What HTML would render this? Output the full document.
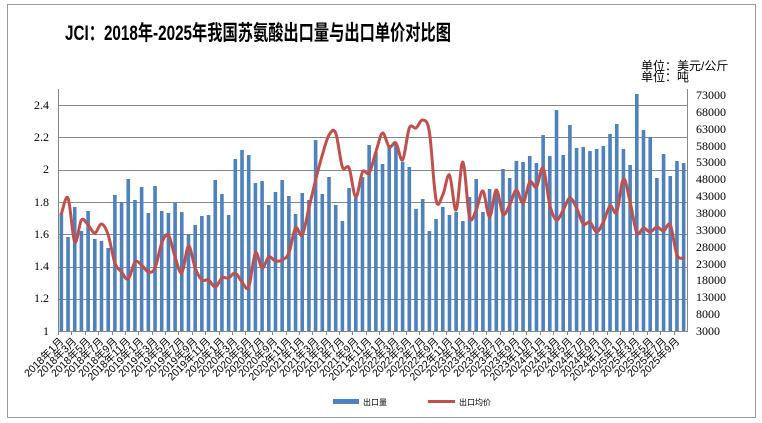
<!DOCTYPE html>
<html><head><meta charset="utf-8">
<style>
html,body{margin:0;padding:0;background:#fff;}
svg{display:block;}
.ax{font-family:"Liberation Serif","Noto Serif CJK SC",serif;font-size:12px;fill:#000;}
.xl{font-family:"Liberation Sans","Noto Sans CJK SC",sans-serif;font-size:10.5px;fill:#000;}
</style></head>
<body>
<svg id="s" width="762" height="423" viewBox="0 0 762 423" xmlns="http://www.w3.org/2000/svg">
<rect x="7.5" y="4.5" width="748" height="413" fill="#fff" stroke="#999" stroke-width="1"/>
<text x="258" y="40" text-anchor="middle" font-family="Liberation Sans,'Noto Sans CJK SC',sans-serif" font-weight="bold" font-size="21" textLength="386" lengthAdjust="spacingAndGlyphs">JCI：2018年-2025年我国苏氨酸出口量与出口单价对比图</text>
<text x="641" y="70" font-family="Liberation Sans,'Noto Sans CJK SC',sans-serif" font-size="12">单位：美元/公斤</text>
<text x="641" y="81" font-family="Liberation Sans,'Noto Sans CJK SC',sans-serif" font-size="12">单位：吨</text>
<g id="grid" stroke="#888" stroke-width="1"></g>
<g id="bars" fill="#4F81BD"></g>
<path id="ln" fill="none" stroke="#C0504D" stroke-width="3" stroke-linejoin="round" stroke-linecap="round"/>
<line x1="58.5" y1="89" x2="58.5" y2="331" stroke="#888"/>
<line x1="687.5" y1="89" x2="687.5" y2="331" stroke="#888"/>
<line x1="58" y1="331.5" x2="688" y2="331.5" stroke="#888"/>
<g id="ticks" stroke="#888"></g>
<g class="ax" text-anchor="end">
<text x="49" y="109">2.4</text><text x="49" y="141">2.2</text><text x="49" y="173">2</text>
<text x="49" y="206">1.8</text><text x="49" y="238">1.6</text><text x="49" y="270">1.4</text>
<text x="49" y="302">1.2</text><text x="49" y="335">1</text>
</g>
<g class="ax" text-anchor="start" font-size="11">
<text x="696" y="99">73000</text><text x="696" y="116">68000</text><text x="696" y="133">63000</text>
<text x="696" y="150">58000</text><text x="696" y="166">53000</text><text x="696" y="183">48000</text>
<text x="696" y="200">43000</text><text x="696" y="217">38000</text><text x="696" y="234">33000</text>
<text x="696" y="251">28000</text><text x="696" y="268">23000</text><text x="696" y="284">18000</text>
<text x="696" y="301">13000</text><text x="696" y="318">8000</text><text x="696" y="335">3000</text>
</g>
<g class="xl" text-anchor="end">
<text transform="translate(64,342) rotate(-45)">2018年1月</text>
<text transform="translate(77,342) rotate(-45)">2018年3月</text>
<text transform="translate(91,342) rotate(-45)">2018年5月</text>
<text transform="translate(104,342) rotate(-45)">2018年7月</text>
<text transform="translate(118,342) rotate(-45)">2018年9月</text>
<text transform="translate(131,342) rotate(-45)">2018年11月</text>
<text transform="translate(144,342) rotate(-45)">2019年1月</text>
<text transform="translate(158,342) rotate(-45)">2019年3月</text>
<text transform="translate(171,342) rotate(-45)">2019年5月</text>
<text transform="translate(185,342) rotate(-45)">2019年7月</text>
<text transform="translate(198,342) rotate(-45)">2019年9月</text>
<text transform="translate(211,342) rotate(-45)">2019年11月</text>
<text transform="translate(225,342) rotate(-45)">2020年1月</text>
<text transform="translate(238,342) rotate(-45)">2020年3月</text>
<text transform="translate(252,342) rotate(-45)">2020年5月</text>
<text transform="translate(265,342) rotate(-45)">2020年7月</text>
<text transform="translate(278,342) rotate(-45)">2020年9月</text>
<text transform="translate(292,342) rotate(-45)">2020年11月</text>
<text transform="translate(305,342) rotate(-45)">2021年1月</text>
<text transform="translate(319,342) rotate(-45)">2021年3月</text>
<text transform="translate(332,342) rotate(-45)">2021年5月</text>
<text transform="translate(345,342) rotate(-45)">2021年7月</text>
<text transform="translate(359,342) rotate(-45)">2021年9月</text>
<text transform="translate(372,342) rotate(-45)">2021年11月</text>
<text transform="translate(386,342) rotate(-45)">2022年1月</text>
<text transform="translate(399,342) rotate(-45)">2022年3月</text>
<text transform="translate(412,342) rotate(-45)">2022年5月</text>
<text transform="translate(426,342) rotate(-45)">2022年7月</text>
<text transform="translate(439,342) rotate(-45)">2022年9月</text>
<text transform="translate(453,342) rotate(-45)">2022年11月</text>
<text transform="translate(466,342) rotate(-45)">2023年1月</text>
<text transform="translate(479,342) rotate(-45)">2023年3月</text>
<text transform="translate(493,342) rotate(-45)">2023年5月</text>
<text transform="translate(506,342) rotate(-45)">2023年7月</text>
<text transform="translate(520,342) rotate(-45)">2023年9月</text>
<text transform="translate(533,342) rotate(-45)">2023年11月</text>
<text transform="translate(546,342) rotate(-45)">2024年1月</text>
<text transform="translate(560,342) rotate(-45)">2024年3月</text>
<text transform="translate(573,342) rotate(-45)">2024年5月</text>
<text transform="translate(587,342) rotate(-45)">2024年7月</text>
<text transform="translate(600,342) rotate(-45)">2024年9月</text>
<text transform="translate(613,342) rotate(-45)">2024年11月</text>
<text transform="translate(627,342) rotate(-45)">2025年1月</text>
<text transform="translate(640,342) rotate(-45)">2025年3月</text>
<text transform="translate(654,342) rotate(-45)">2025年5月</text>
<text transform="translate(667,342) rotate(-45)">2025年7月</text>
<text transform="translate(680,342) rotate(-45)">2025年9月</text>
</g>
<rect x="333" y="399" width="26" height="5" fill="#4F81BD"/>
<text x="363" y="405" font-family="Liberation Sans,'Noto Sans CJK SC',sans-serif" font-size="8">出口量</text>
<line x1="428" y1="401.5" x2="455" y2="401.5" stroke="#C0504D" stroke-width="3"/>
<text x="459" y="405" font-family="Liberation Sans,'Noto Sans CJK SC',sans-serif" font-size="8">出口均价</text>
</svg>
<script>
var NS="http://www.w3.org/2000/svg";
function el(t,a,p){var e=document.createElementNS(NS,t);for(var k in a)e.setAttribute(k,a[k]);document.getElementById(p).appendChild(e);}
[105,137.3,169.6,201.9,234.2,266.5,298.8].forEach(function(y){el("line",{x1:58,x2:687,y1:Math.round(y)+.5,y2:Math.round(y)+.5},"grid");});
var bars=[213,237,207,231,211,239,241,248,195,202,179,200,187,213,186,211,213,203,212,234,225,216,215,180,194,215,159,150,155,183,181,205,192,180,196,214,193,200,140,194,177,205,221,188,198,177,145,152,164,145,144,162,167,209,199,231,219,207,215,212,221,197,179,212,189,189,169,178,161,162,156,163,135,156,110,155,125,148,147,151,149,146,134,124,149,165,94,130,137,178,154,176,161,163];
var line=[214,198,242,220,225,233,224,235,263,272,279,262,265,272,268,243,235,257,273,246,268,280,280,287,278,278,273,282,287,253,268,257,261,260,253,228,235,208,180,155,135,133,167,168,197,172,173,152,133,147,143,160,128,128,120,132,200,195,175,210,162,217,210,191,217,190,214,205,190,203,182,187,168,205,220,210,198,208,224,222,232,222,206,212,179,202,233,228,232,227,231,225,255,258];
var n=bars.length,w=(687-58)/n;
for(var i=0;i<n;i++){var cx=58+w*(i+.5);el("rect",{x:(cx-1.8).toFixed(2),y:bars[i],width:3.6,height:331-bars[i]},"bars");
 if(i%2==0)el("line",{x1:Math.round(58+w*i)+.5,x2:Math.round(58+w*i)+.5,y1:331,y2:335},"ticks");}
var P=line.map(function(y,i){return [58+w*(i+.5),y];});
var d="M"+P[0][0].toFixed(1)+" "+P[0][1];
for(var i=0;i<P.length-1;i++){var p0=P[i-1]||P[i],p1=P[i],p2=P[i+1],p3=P[i+2]||p2;
 var c1=[p1[0]+(p2[0]-p0[0])/6,p1[1]+(p2[1]-p0[1])/6],c2=[p2[0]-(p3[0]-p1[0])/6,p2[1]-(p3[1]-p1[1])/6];
 d+=" C"+c1[0].toFixed(1)+" "+c1[1].toFixed(1)+" "+c2[0].toFixed(1)+" "+c2[1].toFixed(1)+" "+p2[0].toFixed(1)+" "+p2[1];}
document.getElementById("ln").setAttribute("d",d);
</script>
</body></html>
